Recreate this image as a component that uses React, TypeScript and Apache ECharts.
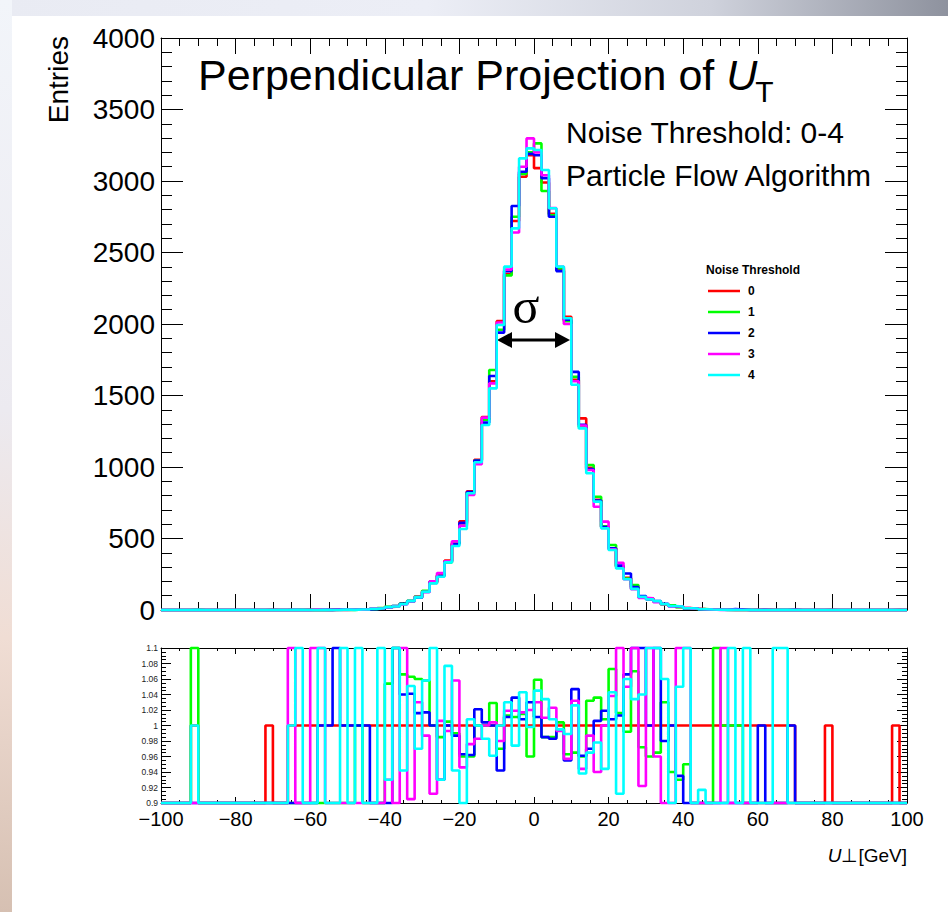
import React, { useEffect, useRef } from "react";
import * as echarts from "echarts";

const FONT = '"Liberation Sans", Arial, Helvetica, sans-serif';

// ---- histogram settings (GeV) ----
const X_MIN = -100;
const X_MAX = 100;
const BIN_WIDTH = 2;

// ---- legend / series names ----
const thresholds = ["0", "1", "2", "3", "4"];
const colors = ["#ff0000", "#00ff00", "#0000ff", "#ff00ff", "#00ffff"];

// ---- top panel: entries per 2 GeV bin (bin low edges -100 ... 98) ----
const thr0 = [
  0, 0, 0, 0, 1, 0, 0, 0, 0, 0,
  0, 0, 0, 0, 1, 0, 0, 1, 1, 1,
  1, 1, 1, 2, 2, 2, 3, 4, 9, 12,
  21, 24, 42, 60, 90, 130, 190, 245, 345, 470,
  620, 830, 1050, 1350, 1600, 2020, 2350, 2720, 3030, 3180,
  3090, 2990, 2770, 2380, 2050, 1610, 1340, 995, 770, 580,
  430, 300, 225, 150, 92, 80, 58, 40, 30, 22,
  13, 9, 6, 4, 2, 2, 1, 1, 1, 1,
  1, 1, 1, 1, 1, 0, 0, 0, 0, 1,
  0, 0, 0, 0, 0, 0, 0, 0, 1, 0,
];
const thr1 = [
  0, 0, 0, 0, 2, 0, 0, 0, 0, 0,
  0, 0, 0, 0, 0, 0, 0, 1, 0, 0,
  0, 0, 0, 1, 0, 1, 3, 3, 8, 14,
  22, 28, 45, 64, 95, 135, 200, 240, 333, 465,
  600, 820, 1045, 1330, 1678, 1960, 2340, 2750, 3050, 3200,
  3263, 2930, 2760, 2390, 2020, 1630, 1280, 1014, 792, 585,
  455, 305, 220, 175, 88, 78, 60, 38, 32, 20,
  12, 8, 6, 3, 4, 1, 1, 1, 0, 0,
  0, 0, 0, 0, 0, 0, 0, 0, 0, 0,
  0, 0, 0, 0, 0, 0, 0, 0, 0, 0,
];
const thr2 = [
  0, 0, 0, 0, 0, 0, 0, 0, 0, 0,
  0, 0, 0, 0, 0, 0, 0, 0, 0, 0,
  0, 1, 1, 3, 2, 2, 3, 4, 7, 11,
  18, 28, 44, 62, 86, 126, 195, 238, 340, 460,
  610, 825, 1045, 1310, 1636, 1940, 2370, 2825, 3065, 3190,
  3180, 3020, 2750, 2370, 2030, 1665, 1295, 985, 765, 580,
  432, 310, 255, 160, 98, 76, 62, 44, 26, 22,
  12, 10, 5, 3, 2, 2, 6, 4, 1, 0,
  1, 0, 0, 0, 1, 0, 0, 0, 0, 0,
  0, 0, 0, 0, 0, 0, 0, 0, 0, 0,
];
const thr3 = [
  0, 0, 0, 0, 0, 0, 0, 0, 0, 0,
  0, 0, 0, 0, 0, 0, 0, 2, 0, 0,
  3, 2, 0, 1, 1, 2, 2, 5, 10, 11,
  19, 26, 38, 60, 92, 126, 200, 258, 340, 480,
  590, 805, 1020, 1345, 1585, 2010, 2380, 2640, 3100, 3298,
  3200, 3040, 2810, 2400, 2000, 1600, 1290, 979, 722, 618,
  425, 330, 215, 145, 85, 82, 55, 40, 26, 24,
  14, 9, 5, 4, 1, 2, 1, 0, 0, 0,
  0, 0, 0, 0, 0, 0, 0, 0, 0, 0,
  0, 0, 0, 0, 0, 0, 0, 0, 0, 0,
];
const thr4 = [
  0, 0, 0, 0, 1, 0, 0, 0, 0, 0,
  0, 0, 0, 0, 0, 0, 0, 1, 2, 0,
  0, 2, 0, 1, 3, 1, 4, 3, 8, 12,
  20, 25, 40, 62, 88, 128, 186, 233, 333, 448,
  566, 816, 1033, 1294, 1550, 1993, 2401, 2669, 3158, 3228,
  3217, 3077, 2809, 2401, 2040, 1575, 1270, 956, 758, 571,
  420, 291, 215, 148, 92, 75, 62, 42, 28, 24,
  12, 10, 5, 3, 2, 1, 2, 0, 1, 0,
  0, 0, 1, 1, 0, 0, 0, 0, 0, 0,
  0, 0, 0, 0, 0, 0, 0, 0, 0, 0,
];

// ---- bottom panel: ratio to threshold 0 (values outside 0.9-1.1 drawn at the frame) ----
const ratio0 = [
  0, 0, 0, 0, 1, 0, 0, 0, 0, 0,
  0, 0, 0, 0, 1, 0, 0, 1, 1, 1,
  1, 1, 1, 1, 1, 1, 1, 1, 1, 1,
  1, 1, 1, 1, 1, 1, 1, 1, 1, 1,
  1, 1, 1, 1, 1, 1, 1, 1, 1, 1,
  1, 1, 1, 1, 1, 1, 1, 1, 1, 1,
  1, 1, 1, 1, 1, 1, 1, 1, 1, 1,
  1, 1, 1, 1, 1, 1, 1, 1, 1, 1,
  1, 1, 1, 1, 1, 0, 0, 0, 0, 1,
  0, 0, 0, 0, 0, 0, 0, 0, 1, 0,
];
const ratio1 = [
  0, 0, 0, 0, 2, 0, 0, 0, 0, 0,
  0, 0, 0, 0, 0, 0, 0, 0, 0, 0,
  0, 0, 0, 0, 0, 0, 1, 0, 0, 0,
  1.054, 2, 1.066, 1.063, 1.06, 1.058, 1.0, 0.985, 1.005, 0.99,
  0.96, 0.96, 1.0, 1.0, 1.029, 0.97, 1.013, 1.011, 1.015, 0.96,
  1.059, 0.985, 0.985, 1.004, 0.963, 0.965, 0.96, 1.032, 1.036, 1.008,
  1.073, 1.016, 0.992, 1.07, 0.972, 0.96, 0.965, 1.03, 0.94, 0.93,
  0.95, 0, 0, 0, 2, 1, 1, 1, 0, 0,
  0, 0, 0, 0, 0, 0, 0, 0, 0, 0,
  0, 0, 0, 0, 0, 0, 0, 0, 0, 0,
];
const ratio2 = [
  0, 0, 0, 0, 0, 0, 0, 0, 0, 0,
  0, 0, 0, 0, 0, 0, 0, 0, 0, 0,
  0, 1, 1, 2, 1, 1, 1, 1, 0, 0,
  0, 2, 1.04, 1.041, 1.016, 1.017, 1.0, 0.93, 1.0, 0.987,
  0.963, 0.962, 1.021, 1.004, 1.0, 0.942, 1.011, 1.036, 1.008, 1.03,
  1.011, 0.985, 0.983, 0.995, 0.955, 1.047, 0.961, 0.97, 1.006, 1.019,
  1.008, 1.013, 1.066, 2, 2, 1.0, 2, 0.98, 1.0, 0.935,
  0, 0, 0, 0, 0, 0, 0, 0, 0, 0,
  1, 0, 0, 0, 1, 0, 0, 0, 0, 0,
  0, 0, 0, 0, 0, 0, 0, 0, 0, 0,
];
const ratio3 = [
  0, 0, 0, 0, 0, 0, 0, 0, 0, 0,
  0, 0, 0, 0, 0, 0, 0, 2, 0, 0,
  2, 2, 0, 0, 0, 0, 0, 0, 0, 0,
  0.93, 0, 2, 0.905, 1.03, 0.987, 0.912, 1.006, 0.993, 1.058,
  0.946, 0.976, 0.983, 1.0, 1.004, 0.98, 1.019, 1.019, 1.017, 1.02,
  1.03, 1.01, 1.023, 0.993, 0.957, 1.032, 0.944, 0.987, 0.94, 1.0,
  1.038, 2, 1.05, 2, 0.922, 2, 0.96, 0, 0, 2,
  2, 0, 0, 0, 0, 2, 0, 0, 0, 0,
  0, 0, 0, 0, 0, 0, 0, 0, 0, 0,
  0, 0, 0, 0, 0, 0, 0, 0, 0, 0,
];
const ratio4 = [
  0, 0, 0, 0, 1, 0, 0, 0, 0, 0,
  0, 0, 0, 0, 0, 0, 0, 1, 2, 0,
  0, 2, 0, 0, 2, 0, 2, 0, 0, 2,
  0.93, 2, 0.942, 1.051, 0.97, 1.058, 2, 0.93, 1.077, 0.942,
  0, 1.008, 1.0, 0.983, 0.961, 1.0, 1.03, 0.974, 1.043, 0.998,
  1.045, 1.034, 1.008, 0.995, 0.989, 1.026, 0.938, 0.965, 0.978, 0.944,
  1.043, 0.912, 1.06, 1.034, 1.04, 2, 2, 1.06, 0, 1.05,
  2, 0, 0.917, 0, 0, 0, 2, 0, 2, 0,
  0, 0, 2, 2, 0, 0, 0, 0, 0, 0,
  0, 0, 0, 0, 0, 0, 0, 0, 0, 0,
];

const topValues = [thr0, thr1, thr2, thr3, thr4];
const ratioValues = [ratio0, ratio1, ratio2, ratio3, ratio4];

// ---- ticks ----
const yTopMin = 0;
const yTopMax = 4000;
const yTopStep = 500;
const yRatioMin = 0.9;
const yRatioMax = 1.1;
const yRatioStep = 0.02;
const xStep = 20;

// ---- texts ----
const titleMain = "Perpendicular Projection of ";
const titleVar = "U";
const titleSub = "T";
const info1 = "Noise Threshold: 0-4";
const info2 = "Particle Flow Algorithm";
const legendTitle = "Noise Threshold";
const yTitle = "Entries";

function histPoints(vals: number[], lo: number, hi: number) {
  const pts: number[][] = vals.map((v, i) => [X_MIN + BIN_WIDTH * i, Math.min(hi, Math.max(lo, v))]);
  pts.push([X_MAX, Math.min(hi, Math.max(lo, vals[vals.length - 1]))]);
  return pts;
}

function measure(text: string, font: string) {
  const c = document.createElement("canvas").getContext("2d");
  if (!c) return text.length * 20;
  c.font = font;
  return c.measureText(text).width;
}

const GL = 161;
const GW = 746;

function axisCommon(extra: any) {
  return {
    type: "value",
    splitLine: { show: false },
    axisLine: { show: true, onZero: false, lineStyle: { color: "#000", width: 1 } },
    ...extra,
  };
}

function buildOption(): any {
  const titleFontSize = 43;
  const wMain = measure(titleMain, `${titleFontSize}px "Liberation Sans"`);
  const wU = measure(titleVar, `italic ${titleFontSize}px "Liberation Sans"`);
  const titleX = 198;

  const xAxes = [
    axisCommon({
      gridIndex: 0, position: "bottom", min: X_MIN, max: X_MAX, interval: xStep,
      axisTick: { show: true, inside: true, length: 16, lineStyle: { color: "#000" } },
      minorTick: { show: true, splitNumber: 4, length: 8, lineStyle: { color: "#000" } },
      axisLabel: { show: false },
    }),
    axisCommon({
      gridIndex: 0, position: "top", min: X_MIN, max: X_MAX, interval: xStep,
      axisTick: { show: true, inside: true, length: 16, lineStyle: { color: "#000" } },
      minorTick: { show: true, splitNumber: 4, length: 8, lineStyle: { color: "#000" } },
      axisLabel: { show: false },
    }),
    axisCommon({
      gridIndex: 1, position: "bottom", min: X_MIN, max: X_MAX, interval: xStep,
      axisTick: { show: true, inside: true, length: 6, lineStyle: { color: "#000" } },
      minorTick: { show: true, splitNumber: 4, length: 3, lineStyle: { color: "#000" } },
      axisLabel: {
        show: true, fontSize: 20, fontFamily: FONT, color: "#000", margin: 6,
        formatter: (v: number) => (v < 0 ? "\u2212" + Math.abs(v) : String(v)),
      },
    }),
    axisCommon({
      gridIndex: 1, position: "top", min: X_MIN, max: X_MAX, interval: xStep,
      axisTick: { show: true, inside: true, length: 6, lineStyle: { color: "#000" } },
      minorTick: { show: true, splitNumber: 4, length: 3, lineStyle: { color: "#000" } },
      axisLabel: { show: false },
    }),
  ];

  const yAxes = [
    axisCommon({
      gridIndex: 0, position: "left", min: yTopMin, max: yTopMax, interval: yTopStep,
      axisTick: { show: true, inside: true, length: 22, lineStyle: { color: "#000" } },
      minorTick: { show: true, splitNumber: 5, length: 11, lineStyle: { color: "#000" } },
      axisLabel: {
        show: true, fontSize: 28, fontFamily: FONT, color: "#000", margin: 6,
        formatter: (v: number) => String(Math.round(v)),
      },
    }),
    axisCommon({
      gridIndex: 0, position: "right", min: yTopMin, max: yTopMax, interval: yTopStep,
      axisTick: { show: true, inside: true, length: 22, lineStyle: { color: "#000" } },
      minorTick: { show: true, splitNumber: 5, length: 11, lineStyle: { color: "#000" } },
      axisLabel: { show: false },
    }),
    axisCommon({
      gridIndex: 1, position: "left", min: yRatioMin, max: yRatioMax, interval: yRatioStep,
      axisTick: { show: true, inside: true, length: 10, lineStyle: { color: "#000" } },
      minorTick: { show: true, splitNumber: 4, length: 5, lineStyle: { color: "#000" } },
      axisLabel: {
        show: true, fontSize: 8.5, fontFamily: FONT, color: "#222", margin: 3,
        formatter: (v: number) => String(parseFloat(v.toFixed(3))),
      },
    }),
    axisCommon({
      gridIndex: 1, position: "right", min: yRatioMin, max: yRatioMax, interval: yRatioStep,
      axisTick: { show: true, inside: true, length: 10, lineStyle: { color: "#000" } },
      minorTick: { show: true, splitNumber: 4, length: 5, lineStyle: { color: "#000" } },
      axisLabel: { show: false },
    }),
  ];

  const series: any[] = [];
  topValues.forEach((vals, i) => {
    series.push({
      name: thresholds[i], type: "line", xAxisIndex: 0, yAxisIndex: 0,
      data: histPoints(vals, yTopMin, yTopMax), step: "end", showSymbol: false, symbol: "none",
      clip: false, lineStyle: { color: colors[i], width: 2.6 }, itemStyle: { color: colors[i] },
      silent: true,
    });
  });
  ratioValues.forEach((vals, i) => {
    series.push({
      name: "r" + thresholds[i], type: "line", xAxisIndex: 2, yAxisIndex: 2,
      data: histPoints(vals, yRatioMin, yRatioMax), step: "end", showSymbol: false, symbol: "none",
      clip: false, lineStyle: { color: colors[i], width: 2.6 }, itemStyle: { color: colors[i] },
      silent: true,
    });
  });

  const graphics: any[] = [
    // screenshot edge strips
    {
      type: "rect", z: -10, silent: true,
      shape: { x: 0, y: 0, width: 948, height: 16 },
      style: {
        fill: new echarts.graphic.LinearGradient(0, 0, 1, 0, [
          { offset: 0, color: "#e9ebf3" },
          { offset: 0.45, color: "#eceef6" },
          { offset: 0.75, color: "#cfd2dc" },
          { offset: 1, color: "#8e929e" },
        ]),
      },
    },
    {
      type: "rect", z: -10, silent: true,
      shape: { x: 0, y: 0, width: 12, height: 912 },
      style: {
        fill: new echarts.graphic.LinearGradient(0, 0, 0, 1, [
          { offset: 0, color: "#f2f5fa" },
          { offset: 0.45, color: "#eceaf0" },
          { offset: 0.7, color: "#f0ddd4" },
          { offset: 1, color: "#d6c0b2" },
        ]),
      },
    },
    // y title
    {
      type: "text", x: 58, y: 36, rotation: Math.PI / 2,
      style: { text: yTitle, fontSize: 28, fontFamily: FONT, fill: "#000", align: "right", verticalAlign: "middle" },
    },
    // title
    {
      type: "text", x: titleX, y: 75,
      style: { text: titleMain, fontSize: titleFontSize, fontFamily: FONT, fill: "#000", align: "left", verticalAlign: "middle" },
    },
    {
      type: "text", x: titleX + wMain, y: 75,
      style: { text: titleVar, fontSize: titleFontSize, fontStyle: "italic", fontFamily: FONT, fill: "#000", align: "left", verticalAlign: "middle" },
    },
    {
      type: "text", x: titleX + wMain + wU - 2, y: 91,
      style: { text: titleSub, fontSize: 30, fontFamily: FONT, fill: "#000", align: "left", verticalAlign: "middle" },
    },
    // info texts
    {
      type: "text", x: 566, y: 132,
      style: { text: info1, fontSize: 30, fontFamily: FONT, fill: "#000", align: "left", verticalAlign: "middle" },
    },
    {
      type: "text", x: 566, y: 175,
      style: { text: info2, fontSize: 30, fontFamily: FONT, fill: "#000", align: "left", verticalAlign: "middle" },
    },
    // legend
    {
      type: "text", x: 706, y: 270,
      style: { text: legendTitle, fontSize: 12, fontWeight: "bold", fontFamily: FONT, fill: "#000", align: "left", verticalAlign: "middle" },
    },
    // sigma annotation
    {
      type: "text", x: 526, y: 306,
      style: { text: "\u03c3", fontSize: 50, fontFamily: '"Liberation Serif", "DejaVu Serif", serif', fill: "#000", align: "center", verticalAlign: "middle" },
    },
    {
      type: "line", shape: { x1: 506, y1: 340, x2: 561, y2: 340 },
      style: { stroke: "#000", lineWidth: 3 },
    },
    {
      type: "polygon", shape: { points: [[497, 340], [512, 332], [512, 348]] },
      style: { fill: "#000" },
    },
    {
      type: "polygon", shape: { points: [[570, 340], [555, 332], [555, 348]] },
      style: { fill: "#000" },
    },
    // x title
    {
      type: "text", x: 907, y: 855,
      style: {
        text: "{u|U}{r|\u22a5[GeV]}", align: "right", verticalAlign: "middle",
        rich: {
          u: { fontSize: 19, fontStyle: "italic", fontFamily: FONT, fill: "#000" },
          r: { fontSize: 19, fontFamily: FONT, fill: "#000" },
        },
      },
    },
  ];

  thresholds.forEach((t, i) => {
    const y = 291 + 21 * i;
    graphics.push({
      type: "line", shape: { x1: 708, y1: y, x2: 740, y2: y },
      style: { stroke: colors[i], lineWidth: 2.5 },
    });
    graphics.push({
      type: "text", x: 748, y,
      style: { text: t, fontSize: 12, fontWeight: "bold", fontFamily: FONT, fill: "#000", align: "left", verticalAlign: "middle" },
    });
  });

  return {
    animation: false,
    backgroundColor: "#ffffff",
    textStyle: { fontFamily: FONT },
    grid: [
      { left: GL, top: 38, width: GW, height: 572 },
      { left: GL, top: 648, width: GW, height: 155 },
    ],
    xAxis: xAxes,
    yAxis: yAxes,
    series,
    graphic: graphics,
  };
}

export default function App() {
  const ref = useRef<HTMLDivElement>(null);
  useEffect(() => {
    if (!ref.current) return;
    const chart = echarts.init(ref.current, null, { renderer: "svg" });
    chart.setOption(buildOption());
    return () => {
      chart.dispose();
    };
  }, []);
  return (
    <div
      ref={ref}
      style={{ position: "fixed", left: 0, top: 0, width: 948, height: 912, background: "#fff" }}
    />
  );
}
